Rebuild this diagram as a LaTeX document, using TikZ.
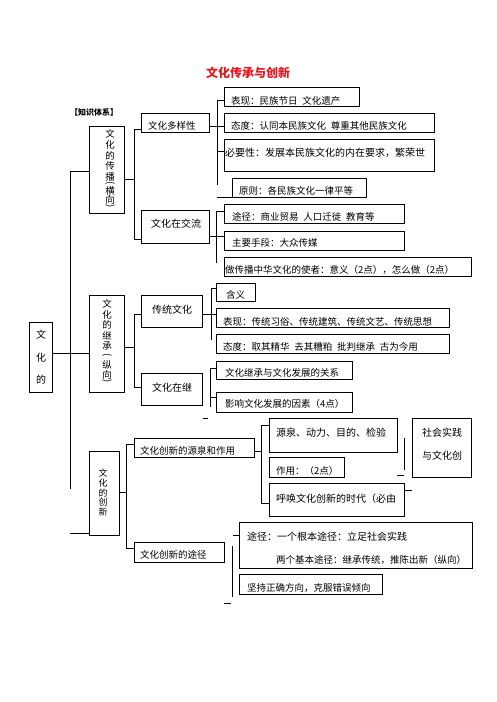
\documentclass[tikz,border=0pt]{standalone}
\usepackage{fontspec}
\setmainfont{Noto Sans CJK SC}
\usepackage{graphicx}
\definecolor{titlered}{RGB}{232,20,27}
\tikzset{
  bx/.style={draw, line width=1pt, inner sep=0pt},
  ln/.style={line width=0.9pt},
  tx/.style={anchor=west, inner sep=0pt, font=\fontsize{9.5}{11}\selectfont},
  txb/.style={anchor=west, inner sep=0pt, font=\fontsize{10}{11}\selectfont},
  vt/.style={inner sep=0pt, font=\fontsize{9.5}{10}\selectfont},
}
\newcommand\mybox[5]{\node[bx, minimum width={#4-#2}, minimum height={#5-#3}] (#1) at ({(#2+#4)/2},{(#3+#5)/2}) {};}
\newcommand\vpl{\rotatebox[origin=c]{-90}{(}}
\newcommand\vpr{\rotatebox[origin=c]{-90}{)}}
\begin{document}
\begin{tikzpicture}[x=1pt,y=-1pt]
\useasboundingbox (0,0) rectangle (496,702);
% title
\node[inner sep=0pt, text=titlered, font=\fontsize{12}{14}\selectfont\bfseries] (title) at (248,73) {文化传承与创新};
\node[inner sep=0pt, font=\fontsize{8}{10}\selectfont\bfseries] (sys) at (94,112) {【知识体系】};
% boxes
\mybox{root}{29}{322}{52}{392}
\mybox{l1a}{89}{126}{124}{213}
\mybox{l1b}{89}{295}{124}{392}
\mybox{l1c}{89}{451}{119}{535}
\mybox{dy}{141}{113}{209}{132}
\mybox{jl}{141}{210}{209}{243}
\mybox{ct}{141}{295}{202}{327}
\mybox{jc}{141}{373}{202}{405}
\mybox{ly}{134}{438}{254}{457}
\mybox{tj}{134}{542}{224}{562}
\mybox{a1}{224}{87}{359}{106}
\mybox{a2}{224}{113}{434}{132}
\mybox{a3}{224}{139}{434}{171}
\mybox{a4}{232}{178}{366}{197}
\mybox{b1}{224}{204}{404}{223}
\mybox{b2}{224}{231}{404}{250}
\mybox{b3}{224}{257}{471}{276}
\mybox{c1}{216}{283}{255}{301}
\mybox{c2}{216}{308}{449}{327}
\mybox{c3}{216}{334}{449}{353}
\mybox{c4}{216}{361}{352}{379}
\mybox{c5}{216}{392}{352}{412}
\mybox{d1}{269}{418}{397}{452}
\mybox{d2}{269}{457}{344}{477}
\mybox{d3}{269}{483}{404}{516}
\mybox{e}{412}{418}{471}{477}
\mybox{f1}{239}{522}{472}{568}
\mybox{f2}{239}{574}{382}{594}
% vertical texts
\foreach \c/\y [count=\i] in {文/335,化/358,的/380}
  \node[vt, font=\fontsize{10}{10}\selectfont] (rt\i) at (41,\y) {\c};
\foreach \c/\y [count=\i] in {文/134,化/145,的/155.5,传/166,播/176.5,\vpl/184,横/190.5,向/199.5,\vpr/207}
  \node[vt] (l1at\i) at (110,\y) {\c};
\foreach \c/\y [count=\i] in {文/304,化/314.5,的/325,继/335.5,承/346,\vpl/356,纵/365,向/375,\vpr/382}
  \node[vt] (l1bt\i) at (107,\y) {\c};
\foreach \c/\y [count=\i] in {文/473,化/483,的/492.5,创/502,新/512}
  \node[vt, font=\fontsize{9}{10}\selectfont] (l1ct\i) at (103,\y) {\c};
% level 2 texts
\node[tx] (dyt) at (148,126) {文化多样性};
\node[txb] (jlt) at (151,224) {文化在交流};
\node[txb] (ctt) at (152,309.5) {传统文化};
\node[txb] (jct) at (152,388) {文化在继};
\node[tx] (lyt) at (140,451) {文化创新的源泉和作用};
\node[tx] (tjt) at (140,555) {文化创新的途径};
% level 3 texts
\node[tx] (a1t) at (231,101) {表现：民族节日\enspace 文化遗产};
\node[tx] (a2t) at (231,125.5) {态度：认同本民族文化\enspace 尊重其他民族文化};
\node[txb] (a3t) at (225,153) {必要性：发展本民族文化的内在要求，繁荣世};
\node[tx] (a4t) at (239,190.5) {原则：各民族文化一律平等};
\node[tx] (b1t) at (232,216.5) {途径：商业贸易\enspace 人口迁徙\enspace 教育等};
\node[tx] (b2t) at (232,242.5) {主要手段：大众传媒};
\node[tx] (b3t) at (225,269.5) {做传播中华文化的使者：意义（2点），怎么做（2点）};
\node[tx] (c1t) at (226,295) {含义};
\node[tx] (c2t) at (223,321.5) {表现：传统习俗、传统建筑、传统文艺、传统思想};
\node[tx] (c3t) at (223,347) {态度：取其精华\enspace 去其糟粕\enspace 批判继承\enspace 古为今用};
\node[tx] (c4t) at (225,373) {文化继承与文化发展的关系};
\node[tx] (c5t) at (225,404) {影响文化发展的因素（4点）};
\node[txb] (d1t) at (276,433) {源泉、动力、目的、检验};
\node[tx] (d2t) at (276,471) {作用：（2点）};
\node[txb] (d3t) at (276,499) {呼唤文化创新的时代（必由};
\node[txb, anchor=center] (et1) at (442,433) {社会实践};
\node[txb, anchor=center] (et2) at (442,456) {与文化创};
\node[txb] (f1t1) at (247,537) {途径：一个根本途径：立足社会实践};
\node[tx] (f1t2) at (276,560) {两个基本途径：继承传统，推陈出新（纵向）};
\node[tx] (f2t) at (247,588) {坚持正确方向，克服错误倾向};
% connectors
\coordinate (trT) at (70,171);
\coordinate (trB) at (70,489);
\draw[ln] (trT) -- (trB);
\draw[ln] (trT) -- (l1a.west |- trT);
\draw[ln] (root.east |- 0,353) -- (l1b.west |- 0,353);
\draw[ln] (70,533) -- (l1c.west |- 0,533);
% level 1 -> 2
\draw[ln] (l1a.east |- 0,179) -- (134,179);
\draw[ln] (dy.west |- 0,129) -| (134,239) -- (jl.west |- 0,239);
\draw[ln] (l1b.east |- 0,347) -- (134,347);
\draw[ln] (ct.west |- 0,314) -| (134,387) -- (jc.west |- 0,387);
\draw[ln] (l1c.east |- 0,492) -- (126,492);
\draw[ln] (ly.west |- 0,444) -| (126,548) -- (tj.west |- 0,548);
% diversity
\draw[ln] (dy.east |- 0,126) -- (a2.west |- 0,126);
\draw[ln] (a1.west |- 0,100) -| (217,185);
\draw[ln] (217,151) -- (a3.west |- 0,151);
\draw[ln] (217,197) -- (a4.west |- 0,197);
% exchange
\draw[ln] (jl.east |- 0,236) -- (b2.west |- 0,236);
\draw[ln] (b1.west |- 0,211) -| (216,263);
% tradition
\draw[ln] (ct.east |- 0,314) -- (c2.west |- 0,314);
\draw[ln] (c1.west |- 0,288) -| (211,340);
% inheritance
\draw[ln] (c4.west |- 0,368) -| (210,407);
\draw[ln] (210,397) -- (c5.west |- 0,397);
\draw[ln] (203,418) -- (208,418);
% innovation source
\draw[ln] (ly.east |- 0,451) -- (261,451);
\draw[ln] (d1.west |- 0,425) -| (261,503) -- (d3.west |- 0,503);
\draw[ln] (404,438) -- (404,470);
\draw[ln] (397,475) -- (404,475);
\draw[ln] (d3.east |- 0,490) -- (e.west |- 0,490);
% innovation ways
\draw[ln] (233,535) -- (f1.west |- 0,535);
\draw[ln] (232,546) -- (232,597);
\draw[ln] (224,603) -- (231,603);
\end{tikzpicture}
\end{document}
